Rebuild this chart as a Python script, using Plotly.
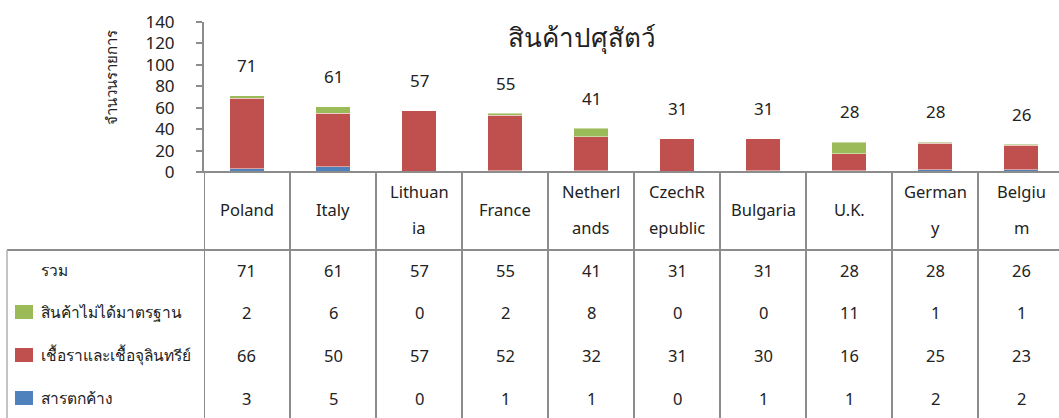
import plotly.graph_objects as go

# ---- data ----
categories = ["Poland", "Italy", "Lithuania", "France", "Netherlands",
              "CzechRepublic", "Bulgaria", "U.K.", "Germany", "Belgium"]
header_labels = ["Poland", "Italy", "Lithuan|ia", "France", "Netherl|ands",
                 "CzechR|epublic", "Bulgaria", "U.K.", "German|y", "Belgiu|m"]
residue = [3, 5, 0, 1, 1, 0, 1, 1, 2, 2]            # สารตกค้าง
fungi = [66, 50, 57, 52, 32, 31, 30, 16, 25, 23]      # เชื้อราและเชื้อจุลินทรีย์
substandard = [2, 6, 0, 2, 8, 0, 0, 11, 1, 1]        # สินค้าไม่ได้มาตรฐาน
total = [71, 61, 57, 55, 41, 31, 31, 28, 28, 26]     # รวม

series_names = ["สารตกค้าง", "เชื้อราและเชื้อจุลินทรีย์", "สินค้าไม่ได้มาตรฐาน"]
colors = ["#4F81BD", "#C0504D", "#9BBB59"]
title = "สินค้าปศุสัตว์"
ytitle = "จำนวนรายการ"
y_ticks = [0, 20, 40, 60, 80, 100, 120, 140]

W, H = 1059, 418
FONT = "Noto Sans, DejaVu Sans, sans-serif"
GRID = "#8c8c8c"
TXT = "#222"

def px(x):  # pixel -> paper x
    return x / W

def py(y):  # pixel (from top) -> paper y
    return 1 - y / H

x_idx = list(range(len(categories)))
col_w = 86.0
x_left = 204.0
x_range = [-0.5, -0.5 + (W - x_left) / col_w]

fig = go.Figure()
for name, vals, col in zip(series_names, [residue, fungi, substandard], colors):
    fig.add_trace(go.Bar(
        x=x_idx, y=vals, name=name, width=0.4,
        marker=dict(color=col, line=dict(color="rgba(255,255,255,0.45)", width=1)),
        showlegend=False, hoverinfo="y"))

annotations = []

def ann(x, y, text, xref="paper", yref="paper", size=16, xanchor="center", **kw):
    d = dict(x=x, y=y, xref=xref, yref=yref, text=text, showarrow=False,
             xanchor=xanchor, yanchor="middle",
             font=dict(size=size, color=TXT, family=FONT))
    d.update(kw)
    annotations.append(d)

# total labels above bars
for i, t in enumerate(total):
    ann(i, t, str(t), xref="x", yref="y", size=17, yshift=30)

# title and y title
ann(px(582), py(37), title, size=26)
ann(px(111), py(78), ytitle, size=15, textangle=-90)

# header labels
for i, lab in enumerate(header_labels):
    parts = lab.split("|")
    if len(parts) == 1:
        ann(i, py(209), parts[0], xref="x", size=16.5)
    else:
        for k, p in enumerate(parts):
            ann(i, py(192 + 35 * k), p, xref="x", size=16.5)

# table rows
rows = [("รวม", total, None), (series_names[2], substandard, colors[2]),
        (series_names[1], fungi, colors[1]), (series_names[0], residue, colors[0])]
row_y = [270, 312, 355, 398]
shapes = []
for (name, vals, col), ry in zip(rows, row_y):
    ann(px(39), py(ry), name, xanchor="left", size=15.5)
    if col:
        shapes.append(dict(type="rect", xref="paper", yref="paper",
                           x0=px(15), x1=px(33), y0=py(ry + 7), y1=py(ry - 7),
                           fillcolor=col, line=dict(width=0)))
    for i, v in enumerate(vals):
        ann(i, py(ry), str(v), xref="x", size=16.5)

# table grid lines
for k in range(len(categories) + 1):
    shapes.append(dict(type="line", xref="x", yref="paper", x0=k - 0.5, x1=k - 0.5,
                       y0=py(172), y1=py(H), line=dict(color=GRID, width=2)))
shapes.append(dict(type="line", xref="paper", yref="paper", x0=px(197), x1=1,
                   y0=py(172), y1=py(172), line=dict(color=GRID, width=2)))
shapes.append(dict(type="line", xref="paper", yref="paper", x0=px(7), x1=1,
                   y0=py(250), y1=py(250), line=dict(color=GRID, width=2)))
shapes.append(dict(type="line", xref="paper", yref="paper", x0=px(7), x1=px(7),
                   y0=py(250), y1=py(H), line=dict(color="#b0b0b0", width=1.5)))

fig.update_layout(
    width=W, height=H, barmode="stack", bargap=0.6,
    margin=dict(l=0, r=0, t=0, b=0, autoexpand=False),
    paper_bgcolor="white", plot_bgcolor="white",
    annotations=annotations, shapes=shapes,
    xaxis=dict(domain=[px(x_left), 1], range=x_range, showticklabels=False,
               showgrid=False, zeroline=False, showline=False, ticks="",
               automargin=False),
    yaxis=dict(domain=[py(172), py(22)], range=[0, 140], tickvals=y_ticks,
               showgrid=False, zeroline=False, showline=True, linecolor=GRID,
               linewidth=2, ticks="outside", ticklen=6, tickcolor=GRID, tickwidth=2,
               ticklabelstandoff=18, automargin=False,
               tickfont=dict(size=17, color=TXT, family=FONT)),
)

fig.write_html("out.html", config={"displayModeBar": False},
               post_script="document.body.style.margin='0';document.body.style.overflow='hidden';")
